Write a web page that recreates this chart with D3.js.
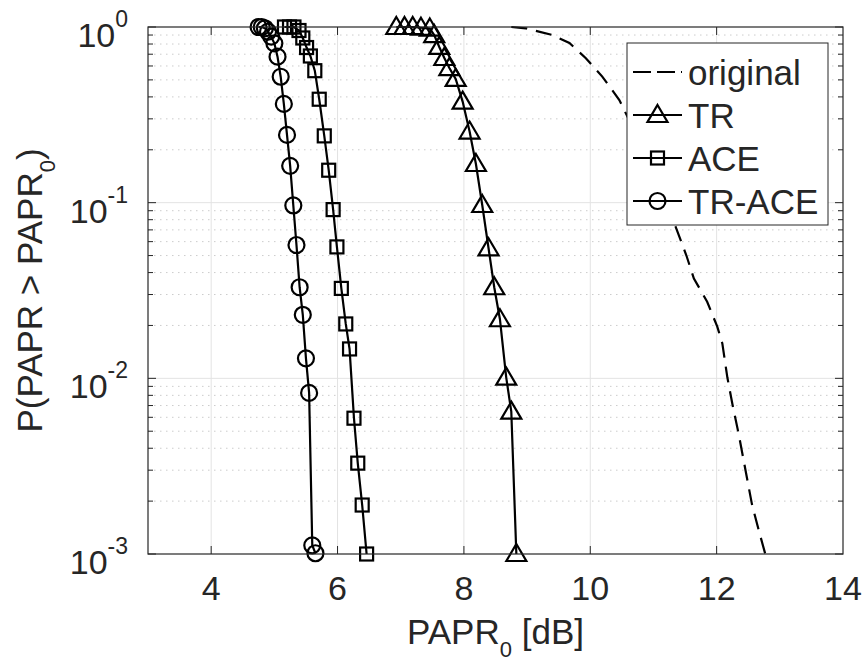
<!DOCTYPE html>
<html>
<head>
<meta charset="utf-8">
<script src="https://cdn.jsdelivr.net/npm/d3@7"></script>
<style>
  body { margin: 0; background: #fff; }
  text { font-family: "Liberation Sans", Arial, sans-serif; fill: #262626; }
</style>
</head>
<body>
<svg id="chart" width="867" height="663"></svg>
<script>
// data (PAPR0 in dB, CCDF)
const origX = [8.75, 8.98, 9.40, 9.67, 9.93, 10.19, 10.46, 10.77, 11.09, 11.35, 11.52, 11.64, 11.85, 12.01, 12.09, 12.17, 12.25, 12.35, 12.46, 12.56, 12.67, 12.77];
const origY = [1.0, 0.983, 0.90, 0.811, 0.664, 0.522, 0.384, 0.227, 0.126, 0.073, 0.0502, 0.037, 0.0273, 0.0197, 0.0158, 0.0101, 0.00712, 0.0048, 0.00296, 0.00191, 0.00135, 0.001];

const trX = [6.93, 7.06, 7.19, 7.32, 7.46, 7.53, 7.61, 7.69, 7.77, 7.87, 7.98, 8.09, 8.19, 8.29, 8.39, 8.48, 8.57, 8.67, 8.75, 8.83];
const trY = [1.0, 1.0, 1.0, 0.99, 0.98, 0.90, 0.77, 0.666, 0.584, 0.506, 0.376, 0.254, 0.166, 0.097, 0.055, 0.033, 0.0217, 0.0101, 0.00646, 0.001];

const aceX = [5.16, 5.24, 5.31, 5.39, 5.45, 5.51, 5.57, 5.64, 5.71, 5.79, 5.86, 5.93, 5.99, 6.06, 6.13, 6.19, 6.26, 6.32, 6.39, 6.46];
const aceY = [1.0, 1.0, 1.0, 0.955, 0.866, 0.764, 0.684, 0.564, 0.388, 0.240, 0.153, 0.0913, 0.0560, 0.0325, 0.0204, 0.0147, 0.00593, 0.00329, 0.0019, 0.001];

const traceX = [4.75, 4.80, 4.85, 4.90, 4.95, 5.00, 5.05, 5.10, 5.15, 5.20, 5.25, 5.30, 5.35, 5.40, 5.45, 5.50, 5.55, 5.60, 5.65];
const traceY = [1.0, 1.0, 0.983, 0.94, 0.881, 0.807, 0.678, 0.521, 0.365, 0.243, 0.162, 0.0964, 0.0574, 0.033, 0.023, 0.013, 0.00826, 0.00112, 0.00101];

const xTicks = [4, 6, 8, 10, 12, 14];
const yExps = [0, -1, -2, -3];
const legendNames = ["original", "TR", "ACE", "TR-ACE"];

const margin = {top: 27, right: 24, bottom: 109, left: 148};
const width = 867 - margin.left - margin.right;
const height = 663 - margin.top - margin.bottom;
const axisColor = "#262626";

const svg = d3.select("#chart")
  .append("g")
  .attr("transform", `translate(${margin.left},${margin.top})`);

const x = d3.scaleLinear().domain([3, 14]).range([0, width]);
const y = d3.scaleLog().domain([1e-3, 1]).range([height, 0]);

// minor y grid (dotted) and major grids
const minorVals = [];
for (let e = -3; e < 0; e++) {
  for (let m = 2; m <= 9; m++) minorVals.push(m * Math.pow(10, e));
}
svg.append("g").selectAll("line")
  .data(minorVals)
  .enter().append("line")
  .attr("x1", 0).attr("x2", width)
  .attr("y1", d => y(d)).attr("y2", d => y(d))
  .attr("stroke", "#cccccc")
  .attr("stroke-width", 1)
  .attr("stroke-dasharray", "1.5,4.5");

svg.append("g").selectAll("line")
  .data([1e-1, 1e-2])
  .enter().append("line")
  .attr("x1", 0).attr("x2", width)
  .attr("y1", d => y(d)).attr("y2", d => y(d))
  .attr("stroke", "#e3e3e3")
  .attr("stroke-width", 1);

svg.append("g").selectAll("line")
  .data(xTicks.filter(d => d < 14))
  .enter().append("line")
  .attr("x1", d => x(d)).attr("x2", d => x(d))
  .attr("y1", 0).attr("y2", height)
  .attr("stroke", "#e3e3e3")
  .attr("stroke-width", 1);

// series
const zip = (xs, ys) => xs.map((v, i) => ({x: v, y: ys[i]}));
const line = d3.line().x(d => x(d.x)).y(d => y(d.y));

const trianglePath = "M0,-10L10,7L-10,7Z";

svg.append("path")
  .datum(zip(origX, origY))
  .attr("d", line)
  .attr("fill", "none")
  .attr("stroke", "#000")
  .attr("stroke-width", 2.2)
  .attr("stroke-dasharray", "16,9");

function drawSeries(data, marker) {
  svg.append("path")
    .datum(data)
    .attr("d", line)
    .attr("fill", "none")
    .attr("stroke", "#000")
    .attr("stroke-width", 2.2);
  const g = svg.append("g");
  data.forEach(d => drawMarker(g, marker, x(d.x), y(d.y)));
}

function drawMarker(g, marker, cx, cy) {
  if (marker === "circle") {
    g.append("circle").attr("cx", cx).attr("cy", cy).attr("r", 8)
      .attr("fill", "none").attr("stroke", "#000").attr("stroke-width", 2.2);
  } else if (marker === "square") {
    g.append("rect").attr("x", cx - 6.5).attr("y", cy - 6.5)
      .attr("width", 13).attr("height", 13)
      .attr("fill", "none").attr("stroke", "#000").attr("stroke-width", 2.2);
  } else if (marker === "triangle") {
    g.append("path").attr("d", trianglePath)
      .attr("transform", `translate(${cx},${cy})`)
      .attr("fill", "none").attr("stroke", "#000").attr("stroke-width", 2.2);
  }
}

drawSeries(zip(trX, trY), "triangle");
drawSeries(zip(aceX, aceY), "square");
drawSeries(zip(traceX, traceY), "circle");

// axes box + inward ticks
svg.append("rect")
  .attr("width", width).attr("height", height)
  .attr("fill", "none")
  .attr("stroke", axisColor)
  .attr("stroke-width", 1.2);

const ticks = svg.append("g").attr("stroke", axisColor).attr("stroke-width", 1);
xTicks.filter(d => d < 14).forEach(d => {
  ticks.append("line").attr("x1", x(d)).attr("x2", x(d)).attr("y1", height).attr("y2", height - 8);
  ticks.append("line").attr("x1", x(d)).attr("x2", x(d)).attr("y1", 0).attr("y2", 8);
});
yExps.forEach(e => {
  const yy = y(Math.pow(10, e));
  ticks.append("line").attr("x1", 0).attr("x2", 8).attr("y1", yy).attr("y2", yy);
  ticks.append("line").attr("x1", width).attr("x2", width - 8).attr("y1", yy).attr("y2", yy);
});
minorVals.forEach(v => {
  const yy = y(v);
  ticks.append("line").attr("x1", 0).attr("x2", 5).attr("y1", yy).attr("y2", yy);
  ticks.append("line").attr("x1", width).attr("x2", width - 5).attr("y1", yy).attr("y2", yy);
});

// tick labels
svg.append("g").selectAll("text")
  .data(xTicks)
  .enter().append("text")
  .attr("x", d => x(d))
  .attr("y", height + 46)
  .attr("text-anchor", "middle")
  .style("font-size", "34px")
  .text(d => d);

const yLab = svg.append("g").selectAll("text")
  .data(yExps)
  .enter().append("text")
  .attr("x", -20)
  .attr("y", d => y(Math.pow(10, d)) + 20)
  .attr("text-anchor", "end")
  .style("font-size", "34px");
yLab.append("tspan").text("10");
yLab.append("tspan")
  .attr("dy", -20)
  .style("font-size", "23px")
  .text(d => d);

// axis labels
const xl = svg.append("text")
  .attr("x", width / 2)
  .attr("y", height + 90)
  .attr("text-anchor", "middle")
  .style("font-size", "35px");
xl.append("tspan").text("PAPR");
xl.append("tspan").attr("dy", 13).style("font-size", "22px").text("0");
xl.append("tspan").attr("dy", -13).text(" [dB]");

const yl = svg.append("text")
  .attr("transform", `translate(${42 - margin.left},${height / 2}) rotate(-90)`)
  .attr("text-anchor", "middle")
  .style("font-size", "35px");
yl.append("tspan").text("P(PAPR > PAPR");
yl.append("tspan").attr("dy", 13).style("font-size", "22px").text("0");
yl.append("tspan").attr("dy", -13).text(")");

// legend
const lg = svg.append("g").attr("transform", `translate(${627 - margin.left},${43 - margin.top})`);
lg.append("rect")
  .attr("width", 201).attr("height", 182)
  .attr("fill", "#fff")
  .attr("stroke", axisColor)
  .attr("stroke-width", 1);

const markers = [null, "triangle", "square", "circle"];
legendNames.forEach((name, i) => {
  const ry = 29 + i * 43;
  lg.append("line")
    .attr("x1", 6).attr("x2", 55)
    .attr("y1", ry).attr("y2", ry)
    .attr("stroke", "#000").attr("stroke-width", 2.2)
    .attr("stroke-dasharray", i === 0 ? "18,6" : null);
  if (markers[i]) drawMarker(lg, markers[i], 30.5, ry);
  lg.append("text")
    .attr("x", 61)
    .attr("y", ry + 12.5)
    .style("font-size", "35px")
    .text(name);
});
</script>
</body>
</html>
